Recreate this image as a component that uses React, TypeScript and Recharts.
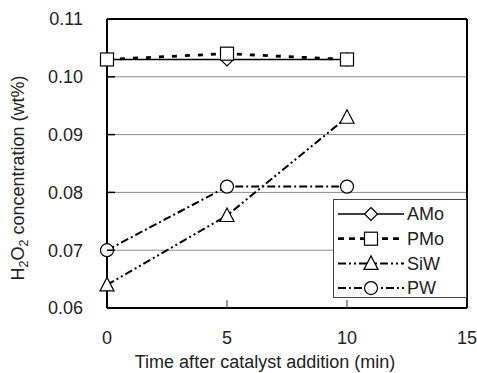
import { LineChart, Line, XAxis, YAxis, CartesianGrid, Legend, ReferenceLine, Label } from "recharts";

const time = [0, 5, 10];
const amo = [0.103, 0.103, 0.103];
const pmo = [0.103, 0.104, 0.103];
const siw = [0.064, 0.076, 0.093];
const pw = [0.070, 0.081, 0.081];

const yTicks = [0.06, 0.07, 0.08, 0.09, 0.1, 0.11];
const xTicks = [0, 5, 10, 15];

const FONT = "'Liberation Sans', Arial, sans-serif";
const TEXT = "#222";
const FS = 18;

const data = time.map((t, i) => ({ time: t, AMo: amo[i], PMo: pmo[i], SiW: siw[i], PW: pw[i] }));

// line style for each series
const styles: Record<string, { dash?: string; width: number; shape: string; legendDash?: string }> = {
  AMo: { width: 1.6, shape: "diamond" },
  PMo: { dash: "5 8", width: 2.8, shape: "square", legendDash: "6 5" },
  SiW: { dash: "8 3 2 3 2 3", width: 2, shape: "triangle", legendDash: "8 3 2 3 2 3" },
  PW: { dash: "8 3 2 3", width: 2, shape: "circle", legendDash: "8 3 2 3" },
};

const Marker = ({ shape, cx, cy }: { shape: string; cx: number; cy: number }) => {
  const common = { fill: "#fff", stroke: "#000", strokeWidth: 1.2 };
  if (shape === "diamond")
    return <polygon points={`${cx},${cy - 6.5} ${cx + 6.5},${cy} ${cx},${cy + 6.5} ${cx - 6.5},${cy}`} {...common} />;
  if (shape === "square") return <rect x={cx - 6.5} y={cy - 6.5} width={13} height={13} {...common} />;
  if (shape === "triangle")
    return <polygon points={`${cx},${cy - 7.5} ${cx + 7},${cy + 6} ${cx - 7},${cy + 6}`} {...common} />;
  return <circle cx={cx} cy={cy} r={6.5} {...common} />;
};

const YTick = ({ x, y, payload }: any) => (
  <g>
    <line x1={x} x2={x + 8} y1={y} y2={y} stroke="#000" strokeWidth={1.5} />
    <text x={x - 24} y={y} dy="0.35em" textAnchor="end" fontSize={FS} fontFamily={FONT} fill={TEXT}>
      {payload.value.toFixed(2)}
    </text>
  </g>
);

const XTick = ({ x, y, payload }: any) => (
  <g>
    {payload.value > 0 && payload.value < 15 && (
      <line x1={x} x2={x} y1={y} y2={y - 8} stroke="#555" strokeWidth={1.2} />
    )}
    <text x={x} y={y + 30} dy="0.35em" textAnchor="middle" fontSize={FS} fontFamily={FONT} fill={TEXT}>
      {payload.value}
    </text>
  </g>
);

const YTitle = () => (
  <text
    transform="translate(24,178) rotate(-90)"
    textAnchor="middle"
    fontSize={FS}
    fontFamily={FONT}
    fill={TEXT}
  >
    H<tspan fontSize={12.5} dy={4}>2</tspan>
    <tspan dy={-4}>O</tspan>
    <tspan fontSize={12.5} dy={4}>2</tspan>
    <tspan dy={-4}> concentration (wt%)</tspan>
  </text>
);

const XTitle = () => (
  <text x={265} y={362} dy="0.35em" textAnchor="middle" fontSize={FS} fontFamily={FONT} fill={TEXT}>
    Time after catalyst addition (min)
  </text>
);

const LegendBox = () => (
  <div style={{ width: 134, height: 99, border: "1px solid #444", background: "#fff", boxSizing: "border-box" }}>
    <svg width={132} height={97}>
      {Object.keys(styles).map((name, i) => {
        const s = styles[name];
        const cy = 14 + i * 24.7;
        return (
          <g key={name}>
            <line x1={4} x2={70} y1={cy} y2={cy} stroke="#000" strokeWidth={s.width} strokeDasharray={s.legendDash} />
            <Marker shape={s.shape} cx={37} cy={cy} />
            <text x={73} y={cy} dy="0.35em" fontSize={FS} fontFamily={FONT} fill={TEXT}>
              {name}
            </text>
          </g>
        );
      })}
    </svg>
  </div>
);

export default function App() {
  return (
    <div style={{ position: "absolute", left: 0, top: 0, width: 477, height: 373, background: "#fff" }}>
      <LineChart width={477} height={373} data={data} margin={{ top: 19, right: 10, bottom: 0, left: 0 }}>
        <CartesianGrid vertical={false} stroke="#8a8a8a" strokeWidth={1} />
        <XAxis
          dataKey="time"
          type="number"
          domain={[0, 15]}
          ticks={xTicks}
          height={65}
          tickSize={0}
          tickMargin={0}
          tickLine={false}
          tick={<XTick />}
          axisLine={{ stroke: "#000", strokeWidth: 2 }}
        >
          <Label content={<XTitle />} />
        </XAxis>
        <YAxis
          type="number"
          domain={[0.06, 0.11]}
          ticks={yTicks}
          width={107}
          tickSize={0}
          tickMargin={0}
          tickLine={false}
          tick={<YTick />}
          axisLine={{ stroke: "#000", strokeWidth: 2 }}
          allowDataOverflow
        >
          <Label content={<YTitle />} />
        </YAxis>
        <ReferenceLine y={0.11} stroke="#000" strokeWidth={2} />
        <ReferenceLine x={15} stroke="#000" strokeWidth={2} />
        {Object.keys(styles).map((name) => {
          const s = styles[name];
          return (
            <Line
              key={name}
              dataKey={name}
              type="linear"
              stroke="#000"
              strokeWidth={s.width}
              strokeDasharray={s.dash}
              isAnimationActive={false}
              dot={(p: any) => <Marker key={`${name}-${p.index}`} shape={s.shape} cx={p.cx} cy={p.cy} />}
              activeDot={false}
            />
          );
        })}
        <Legend
          layout="vertical"
          align="center"
          verticalAlign="middle"
          content={<LegendBox />}
          wrapperStyle={{ left: 333, top: 199, width: 134, height: 99 }}
        />
      </LineChart>
    </div>
  );
}
